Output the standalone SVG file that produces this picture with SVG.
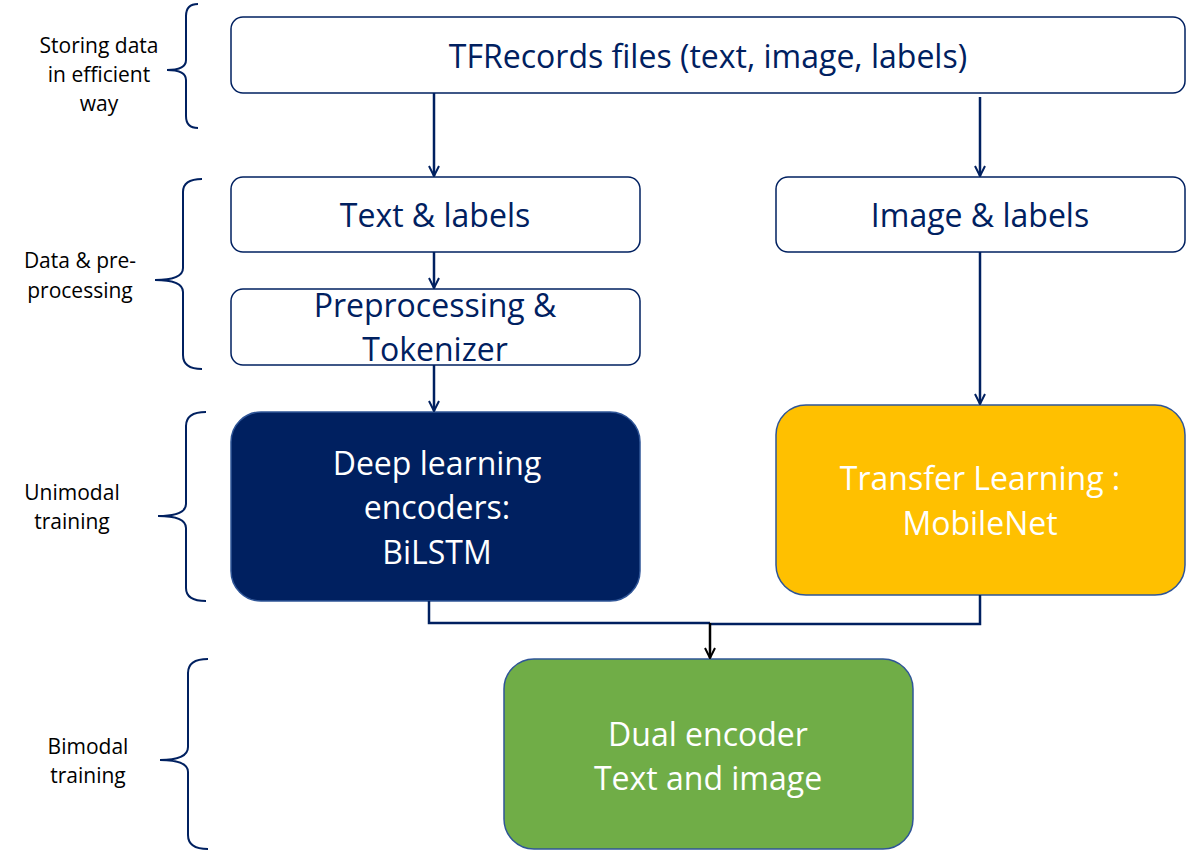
<svg xmlns="http://www.w3.org/2000/svg" width="1186" height="851" viewBox="0 0 1186 851">
  <defs>
    <marker id="arrNavy" viewBox="0 0 12 12" refX="11" refY="6" markerWidth="12" markerHeight="12" markerUnits="userSpaceOnUse" orient="auto">
      <path d="M1,1 L11,6 L1,11" fill="none" stroke="#002060" stroke-width="2"/>
    </marker>
    <marker id="arrBlack" viewBox="0 0 12 12" refX="11" refY="6" markerWidth="12" markerHeight="12" markerUnits="userSpaceOnUse" orient="auto">
      <path d="M1,1 L11,6 L1,11" fill="none" stroke="#000" stroke-width="2"/>
    </marker>
    <style>
      .box { fill: #fff; stroke: #002060; stroke-width: 1.5; }
      .lbl { font-family: "Open Sans", "Liberation Sans", sans-serif; font-size: 32px; fill: #002060; text-anchor: middle; }
      .wlbl { font-family: "Open Sans", "Liberation Sans", sans-serif; font-size: 32px; fill: #fff; text-anchor: middle; }
      .side { font-family: "Open Sans", "Liberation Sans", sans-serif; font-size: 21px; fill: #000; text-anchor: middle; }
      .brace { fill: none; stroke: #002060; stroke-width: 2; }
      .conn { fill: none; stroke: #002060; stroke-width: 2.5; }
    </style>
  </defs>

  <!-- stage labels with braces -->
  <g id="stage-storing">
    <text class="side" x="99" y="53">Storing data</text>
    <text class="side" x="99" y="82">in efficient</text>
    <text class="side" x="99" y="111">way</text>
    <path class="brace" d="M198,4 Q186,4 186,16 L186,60 Q186,70 167,70 Q186,70 186,80 L186,116 Q186,128 198,128"/>
  </g>
  <g id="stage-data">
    <text class="side" x="80" y="268">Data &amp; pre-</text>
    <text class="side" x="80" y="298">processing</text>
    <path class="brace" d="M202,179 Q183,179 183,192 L183,268 Q183,280 155,280 Q183,280 183,292 L183,355 Q183,369 202,369"/>
  </g>
  <g id="stage-unimodal">
    <text class="side" x="72" y="500">Unimodal</text>
    <text class="side" x="72" y="529">training</text>
    <path class="brace" d="M206,412 Q186,412 186,426 L186,504 Q186,516 158,516 Q186,516 186,528 L186,588 Q186,601 206,601"/>
  </g>
  <g id="stage-bimodal">
    <text class="side" x="88" y="754">Bimodal</text>
    <text class="side" x="88" y="783">training</text>
    <path class="brace" d="M208,659 Q188,659 188,673 L188,747 Q188,760 160,760 Q188,760 188,772 L188,835 Q188,849 208,849"/>
  </g>

  <!-- nodes -->
  <g id="tfrecords">
    <rect class="box" x="231" y="17" width="954" height="76" rx="12"/>
    <text class="lbl" x="708" y="68">TFRecords files (text, image, labels)</text>
  </g>
  <g id="text-labels">
    <rect class="box" x="231" y="177" width="409" height="75" rx="12"/>
    <text class="lbl" x="435" y="227">Text &amp; labels</text>
  </g>
  <g id="image-labels">
    <rect class="box" x="776" y="177" width="409" height="75" rx="12"/>
    <text class="lbl" x="980" y="227">Image &amp; labels</text>
  </g>
  <g id="preprocessing">
    <rect class="box" x="231" y="289" width="409" height="76" rx="12"/>
    <text class="lbl" x="435" y="317">Preprocessing &amp;</text>
    <text class="lbl" x="435" y="361">Tokenizer</text>
  </g>
  <g id="deep-learning">
    <rect x="231" y="412" width="409" height="189" rx="30" fill="#002060" stroke="#2F5597" stroke-width="1.5"/>
    <text class="wlbl" x="437" y="475">Deep learning</text>
    <text class="wlbl" x="437" y="519">encoders:</text>
    <text class="wlbl" x="437" y="564">BiLSTM</text>
  </g>
  <g id="transfer-learning">
    <rect x="776" y="405" width="409" height="190" rx="30" fill="#FFC000" stroke="#2F5597" stroke-width="1.5"/>
    <text class="wlbl" x="980" y="490">Transfer Learning :</text>
    <text class="wlbl" x="980" y="535">MobileNet</text>
  </g>
  <g id="dual-encoder">
    <rect x="504" y="659" width="409" height="190" rx="30" fill="#70AD47" stroke="#2F5597" stroke-width="1.5"/>
    <text class="wlbl" x="708" y="746">Dual encoder</text>
    <text class="wlbl" x="708" y="790">Text and image</text>
  </g>

  <!-- connectors -->
  <g id="connectors">
    <line class="conn" x1="434" y1="93" x2="434" y2="176" marker-end="url(#arrNavy)"/>
    <line class="conn" x1="980" y1="97" x2="980" y2="176" marker-end="url(#arrNavy)"/>
    <line class="conn" x1="434" y1="252" x2="434" y2="288" marker-end="url(#arrNavy)"/>
    <line class="conn" x1="434" y1="365" x2="434" y2="411" marker-end="url(#arrNavy)"/>
    <line class="conn" x1="980" y1="252" x2="980" y2="404" marker-end="url(#arrNavy)"/>
    <polyline class="conn" points="429,601 429,623 710,623"/>
    <polyline class="conn" points="980,595 980,624 710,624"/>
    <line x1="710" y1="623" x2="710" y2="658" stroke="#000" stroke-width="2.5" marker-end="url(#arrBlack)"/>
  </g>
</svg>
